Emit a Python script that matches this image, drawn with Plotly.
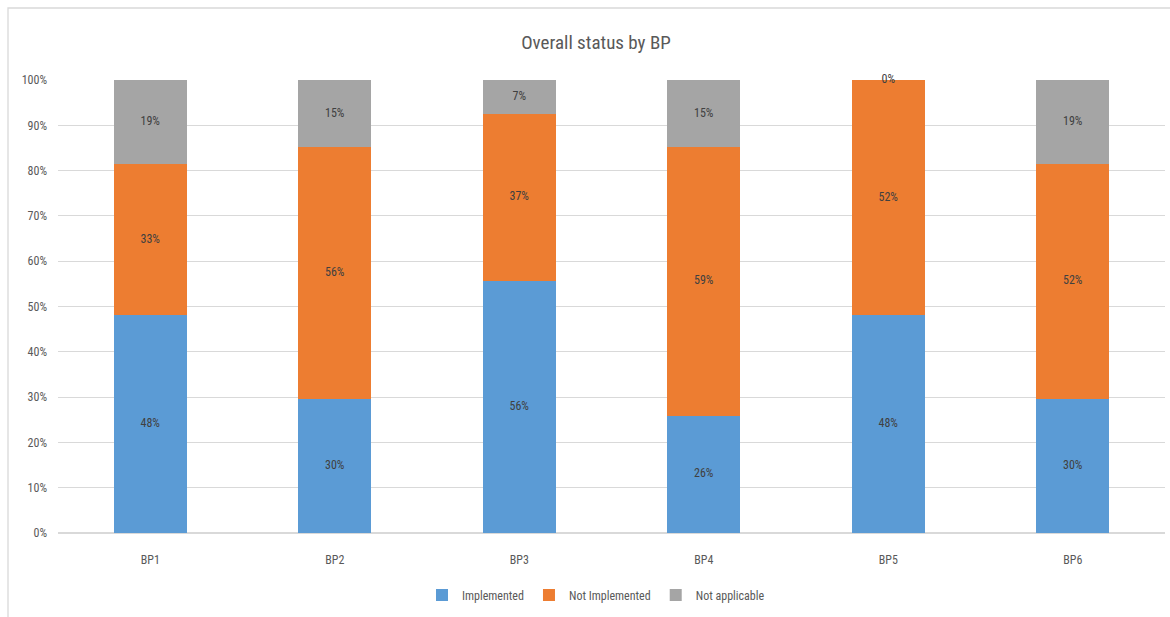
import plotly.graph_objects as go

categories = ["BP1", "BP2", "BP3", "BP4", "BP5", "BP6"]
implemented = [48.1, 29.6, 55.6, 25.9, 48.1, 29.6]
not_implemented = [33.3, 55.6, 37.0, 59.3, 51.9, 51.9]
not_applicable = [18.6, 14.8, 7.4, 14.8, 0.0, 18.5]
series_names = ["Implemented", "Not Implemented", "Not applicable"]
colors = ["#5B9BD5", "#ED7D31", "#A5A5A5"]
y_ticks = [0, 10, 20, 30, 40, 50, 60, 70, 80, 90, 100]
y_tick_labels = ["0%", "10%", "20%", "30%", "40%", "50%", "60%", "70%", "80%", "90%", "100%"]

FONT = "Liberation Sans Narrow, Roboto Condensed, Arial Narrow, Roboto, sans-serif"

fig = go.Figure()
series = [implemented, not_implemented, not_applicable]
base = [0.0] * len(categories)
for name, vals, col in zip(series_names, series, colors):
    fig.add_trace(go.Bar(x=categories, y=vals, name=name, marker=dict(color=col, line=dict(width=0))))
    mids = [b + v / 2 for b, v in zip(base, vals)]
    fig.add_trace(go.Scatter(
        x=categories, y=mids, mode="text",
        text=[f"{int(v + 0.5)}%" for v in vals],
        textfont=dict(family=FONT, size=12, color="#404040"),
        showlegend=False, hoverinfo="skip", cliponaxis=False))
    base = [b + v for b, v in zip(base, vals)]

W, H = 1170, 617
L, R, T, B = 58, 5, 80, 84
pw, ph = W - L - R, H - T - B
bx0 = (8 - L) / pw
by1 = (H - B - 8) / ph
fig.add_shape(type="path", xref="paper", yref="paper",
              path=f"M {bx0} {-(B+5)/ph} L {bx0} {by1} L {(W+5-L)/pw} {by1}",
              line=dict(color="#D9D9D9", width=1.3), layer="below")

fig.update_layout(
    width=W, height=H,
    margin=dict(l=L, r=R, t=T, b=B),
    paper_bgcolor="white", plot_bgcolor="white",
    barmode="stack", bargap=0.604,
    font=dict(family=FONT, size=12, color="#595959"),
    title=dict(text="Overall status by BP", x=596 / W, xref="container", xanchor="center",
               y=1 - 42 / H, yref="container", yanchor="middle",
               font=dict(family=FONT, size=19, color="#595959")),
    xaxis=dict(showgrid=False, showline=False, ticks="", ticklabelstandoff=18,
               tickfont=dict(size=12, color="#595959")),
    yaxis=dict(range=[0, 100], tickmode="array", tickvals=y_ticks, ticktext=y_tick_labels,
               showgrid=True, gridcolor="#D9D9D9", gridwidth=1, zeroline=True,
               zerolinecolor="#D9D9D9", zerolinewidth=1.5, showline=False, ticks="",
               ticklabelstandoff=10, tickfont=dict(size=12, color="#595959")),
    legend=dict(orientation="h", x=596 / pw - L / pw, xanchor="center",
                y=-(595 - (H - B)) / ph, yanchor="middle",
                font=dict(size=12, color="#595959"), itemwidth=30,
                traceorder="normal"),
    showlegend=True,
)

fig.write_html("out.html")
